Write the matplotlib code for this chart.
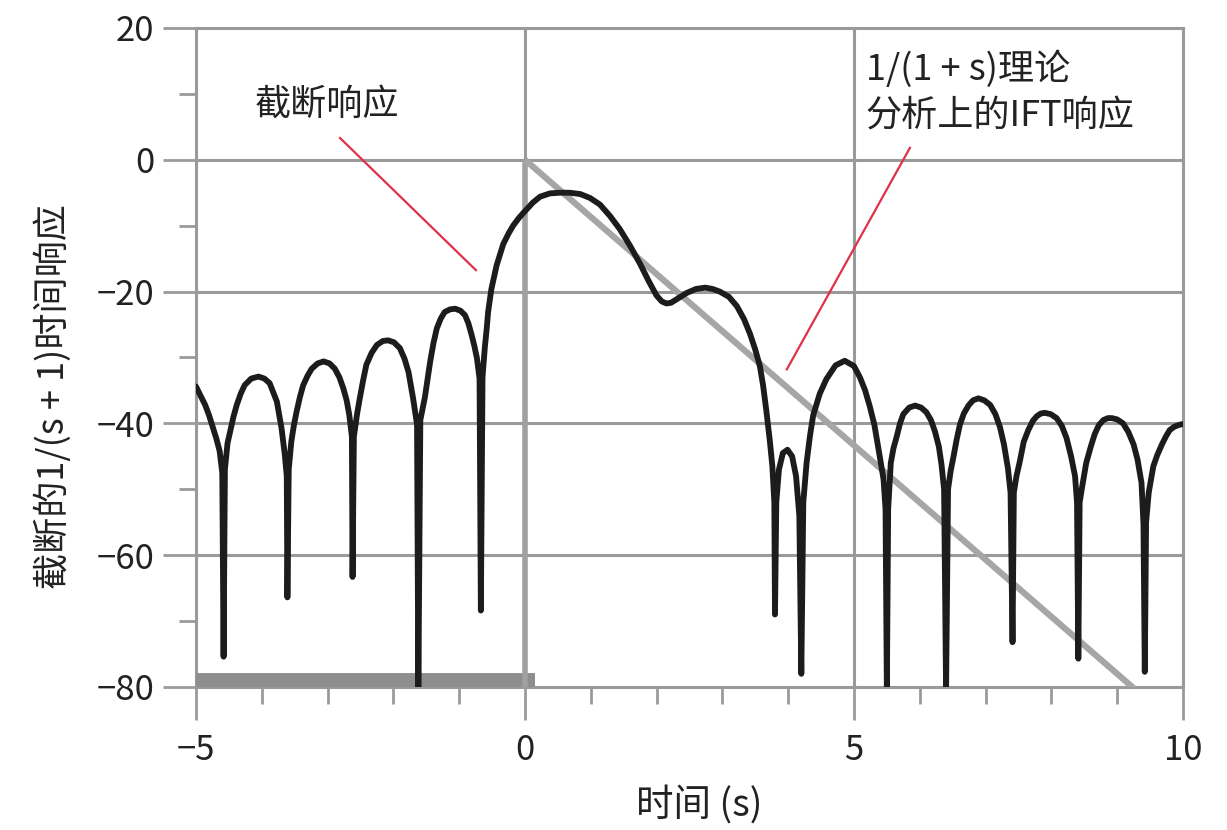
import matplotlib
matplotlib.use('Agg')
import matplotlib.pyplot as plt
from matplotlib.ticker import MultipleLocator

plt.rcParams['font.family'] = ['Noto Sans CJK SC', 'DejaVu Sans']

# truncated response, time in s, level in dB
t_trunc = [-5.00, -4.93, -4.86, -4.80, -4.74, -4.69, -4.64, -4.60, -4.58, -4.56,
           -4.52, -4.48, -4.43, -4.38, -4.32, -4.26, -4.16, -4.05, -3.96, -3.88,
           -3.77, -3.70, -3.65, -3.62, -3.61, -3.59, -3.55, -3.51, -3.47, -3.42,
           -3.37, -3.30, -3.24, -3.15, -3.06, -2.97, -2.89, -2.82, -2.76, -2.71,
           -2.67, -2.63, -2.62, -2.60, -2.55, -2.51, -2.46, -2.41, -2.33, -2.25,
           -2.16, -2.08, -1.99, -1.90, -1.83, -1.77, -1.70, -1.64, -1.62, -1.59,
           -1.52, -1.44, -1.39, -1.34, -1.28, -1.22, -1.14, -1.06, -0.98, -0.91,
           -0.86, -0.81, -0.77, -0.73, -0.69, -0.67, -0.645, -0.61, -0.58, -0.56,
           -0.51, -0.43, -0.33, -0.25, -0.18, -0.09, 0.00, 0.12, 0.23, 0.38,
           0.53, 0.68, 0.84, 0.99, 1.14, 1.29, 1.44, 1.60, 1.75, 1.88,
           2.00, 2.08, 2.15, 2.22, 2.30, 2.38, 2.46, 2.60, 2.74, 2.85,
           2.96, 3.10, 3.22, 3.33, 3.42, 3.50, 3.57, 3.62, 3.67, 3.72,
           3.76, 3.79, 3.80, 3.82, 3.86, 3.92, 3.99, 4.06, 4.12, 4.17,
           4.20, 4.23, 4.28, 4.33, 4.38, 4.48, 4.58, 4.72, 4.86, 5.00,
           5.09, 5.17, 5.24, 5.31, 5.37, 5.45, 5.48, 5.50, 5.52, 5.56,
           5.60, 5.65, 5.70, 5.75, 5.84, 5.93, 6.02, 6.10, 6.17, 6.23,
           6.29, 6.33, 6.37, 6.40, 6.43, 6.47, 6.51, 6.56, 6.61, 6.67,
           6.74, 6.81, 6.89, 6.98, 7.07, 7.15, 7.22, 7.28, 7.34, 7.38,
           7.41, 7.43, 7.47, 7.52, 7.58, 7.65, 7.72, 7.78, 7.84, 7.90,
           7.99, 8.08, 8.16, 8.23, 8.30, 8.36, 8.39, 8.41, 8.43, 8.47,
           8.53, 8.60, 8.66, 8.72, 8.79, 8.86, 8.92, 9.00, 9.09, 9.17,
           9.25, 9.31, 9.37, 9.40, 9.42, 9.44, 9.48, 9.55, 9.61, 9.68,
           9.74, 9.80, 9.87, 9.95, 10.00]
db_trunc = [-34.4, -35.8, -37.2, -38.8, -40.7, -42.3, -44.2, -47.5, -75.4, -47.0,
            -43.0, -41.2, -39.0, -37.2, -35.5, -34.2, -33.2, -32.9, -33.2, -33.9,
            -36.7, -40.7, -44.7, -48.0, -66.4, -47.0, -42.7, -40.2, -38.2, -36.0,
            -34.2, -32.7, -31.7, -30.9, -30.6, -30.9, -31.7, -33.0, -34.7, -36.5,
            -38.7, -42.0, -63.3, -42.0, -38.5, -36.2, -33.5, -31.1, -29.3, -28.1,
            -27.5, -27.4, -27.7, -28.6, -30.2, -32.2, -36.2, -40.2, -80.5, -39.5,
            -36.0, -30.6, -27.8, -25.6, -24.1, -23.1, -22.7, -22.6, -22.9, -23.6,
            -24.8, -26.6, -28.2, -30.1, -33.2, -68.4, -33.0, -28.5, -25.5, -23.1,
            -19.6, -16.0, -12.8, -11.2, -10.0, -8.8, -7.8, -6.5, -5.6, -5.1,
            -5.0, -5.0, -5.2, -5.8, -6.8, -8.5, -10.5, -13.1, -15.8, -18.4,
            -20.6, -21.5, -21.8, -21.7, -21.2, -20.7, -20.2, -19.6, -19.4, -19.6,
            -20.0, -20.8, -22.2, -24.2, -26.4, -28.8, -31.3, -34.3, -38.2, -42.5,
            -46.5, -52.0, -69.0, -52.0, -47.0, -44.5, -44.0, -45.0, -48.0, -54.0,
            -78.0, -52.0, -46.0, -42.0, -38.8, -35.5, -33.3, -31.2, -30.5, -31.3,
            -33.0, -35.0, -37.4, -40.2, -43.7, -48.5, -53.0, -80.5, -53.0, -46.0,
            -43.8, -42.0, -40.0, -38.6, -37.6, -37.3, -37.6, -38.3, -39.5, -41.2,
            -43.5, -46.2, -50.0, -80.5, -50.0, -47.2, -45.2, -42.5, -40.2, -38.5,
            -37.3, -36.5, -36.2, -36.5, -37.2, -38.6, -40.6, -43.2, -46.8, -50.5,
            -73.2, -50.5, -48.0, -45.8, -42.8, -41.0, -39.6, -38.9, -38.5, -38.4,
            -38.6, -39.2, -40.4, -42.2, -45.0, -48.0, -52.0, -75.7, -52.0, -49.5,
            -46.0, -43.5, -41.6, -40.3, -39.5, -39.2, -39.2, -39.4, -40.0, -41.3,
            -43.2, -45.5, -49.0, -55.3, -77.7, -55.0, -50.5, -46.5, -44.8, -43.2,
            -42.0, -41.0, -40.5, -40.2, -40.1]

# analytic 1/(1+s) response
t_theory = [0.0, 9.3]
db_theory = [0.0, -80.6]
t_step = [0.0, 0.0]
db_step = [-80.0, 0.0]
t_floor = [-5.0, 0.15]
db_floor = [-79.0, -79.0]

xticks = [-5, 0, 5, 10]
yticks = [20, 0, -20, -40, -60, -80]

grey = '#9a9a9a'
ink = '#222222'
red = '#e0304a'

fig = plt.figure(figsize=(12.27, 8.3), dpi=100)
ax = fig.add_axes([0.1597, 0.1723, 0.8044, 0.7940])

ax.plot(t_floor, db_floor, color='#8e8e8e', lw=10, solid_capstyle='butt', zorder=3)
ax.plot(t_step, db_step, color='#a0a0a0', lw=4, solid_capstyle='butt', zorder=3)
ax.plot(t_theory, db_theory, color='#a6a6a6', lw=4.5, solid_capstyle='butt', zorder=3)
ax.plot(t_trunc, db_trunc, color='#1c1c1c', lw=4.2, solid_joinstyle='round',
        solid_capstyle='round', zorder=4)

# annotations
ax.text(-4.10, 8.4, '截断响应', fontsize=26, ha='left', va='center', color=ink)
ax.plot([-2.81, -0.745], [3.3, -16.75], color=red, lw=1.6, zorder=5)
ax.text(5.18, 10.3, '1/(1 + s)理论\n分析上的IFT响应', fontsize=26, ha='left', va='center',
        linespacing=1.35, color=ink)
ax.plot([5.85, 3.98], [1.8, -31.8], color=red, lw=1.6, zorder=5)

ax.set_xlim(-5, 10)
ax.set_ylim(-80, 20)
ax.set_xticks(xticks)
ax.set_yticks(yticks)
ax.xaxis.set_minor_locator(MultipleLocator(1))
ax.yaxis.set_minor_locator(MultipleLocator(10))
ax.grid(True, which='major', color=grey, lw=2.2)
ax.set_axisbelow(True)

for sp in ax.spines.values():
    sp.set_color(grey)
    sp.set_linewidth(2.2)

ax.tick_params(which='major', direction='out', length=24, width=2, color=grey,
               labelsize=25, pad=6, labelcolor=ink)
ax.tick_params(which='minor', direction='out', length=12, width=2, color=grey)
ax.tick_params(axis='x', which='major', pad=9)

ax.set_xlabel('时间 (s)', fontsize=27, color=ink)
ax.set_ylabel('截断的1/(s + 1)时间响应', fontsize=26, color=ink)
ax.xaxis.set_label_coords(0.51, -0.150)
ax.yaxis.set_label_coords(-0.126, 0.44)

fig.savefig('out.png', dpi=100)
